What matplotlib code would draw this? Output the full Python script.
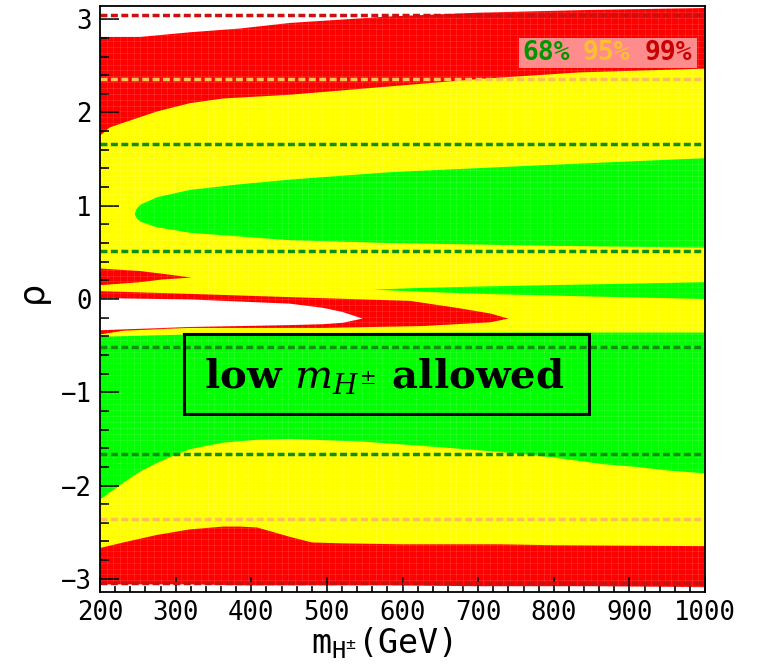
import numpy as np
import matplotlib.pyplot as plt
from matplotlib.patches import Rectangle
from matplotlib.ticker import MultipleLocator

# confidence-region boundaries in the (m_H+, rho) plane
# outer 99% band
red_x = [200, 253, 319, 385, 451, 584, 700, 850, 1000]
red_hi = [2.81, 2.81, 2.86, 2.90, 2.96, 3.03, 3.07, 3.10, 3.12]
red_lo = [-3.06, -3.06, -3.06, -3.07, -3.07, -3.07, -3.08, -3.08, -3.09]

# 95% band
yel_hi_x = [200, 213, 231, 275, 319, 363, 451, 584, 703, 835, 1000]
yel_hi = [1.75, 1.84, 1.89, 2.01, 2.10, 2.15, 2.19, 2.28, 2.36, 2.43, 2.47]
yel_lo_x = [200, 231, 275, 319, 363, 385, 408, 451, 480, 520, 600, 729, 800, 1000]
yel_lo = [-2.67, -2.61, -2.53, -2.47, -2.44, -2.44, -2.45, -2.55, -2.61, -2.62,
          -2.63, -2.63, -2.64, -2.65]

# 99% islands inside the 95% band
spike_x = [200, 253, 283, 321]
spike_hi = [0.327, 0.30, 0.27, 0.23]
spike_lo = [0.148, 0.18, 0.21, 0.23]

band_hi_x = [200, 319, 451, 610, 672, 716, 740]
band_hi = [0.084, 0.055, 0.02, -0.02, -0.095, -0.155, -0.21]
band_lo_x = [200, 231, 319, 495, 627, 716, 740]
band_lo = [-0.38, -0.34, -0.31, -0.31, -0.29, -0.25, -0.21]

# excluded hole
hole_x = [200, 319, 451, 495, 521, 547]
hole_hi = [0.01, -0.005, -0.05, -0.095, -0.14, -0.21]
hole_lo = [-0.335, -0.30, -0.28, -0.27, -0.255, -0.21]

# 68% regions
lobe_x = [246, 248, 253, 275, 319, 385, 451, 584, 800, 1000]
lobe_hi = [0.91, 0.96, 1.01, 1.09, 1.17, 1.23, 1.28, 1.36, 1.44, 1.51]
lobe_lo = [0.91, 0.87, 0.83, 0.77, 0.71, 0.67, 0.63, 0.60, 0.57, 0.55]

sliver_x = [561, 627, 703, 850, 1000]
sliver_hi = [0.10, 0.12, 0.134, 0.157, 0.18]
sliver_lo = [0.10, 0.077, 0.055, 0.027, 0.0]

low_hi_x = [200, 319, 500, 700, 1000]
low_hi = [-0.405, -0.38, -0.365, -0.36, -0.36]
low_lo_x = [200, 231, 253, 275, 297, 319, 363, 408, 451, 550, 600, 650, 729,
            774, 819, 864, 909, 953, 1000]
low_lo = [-2.15, -1.97, -1.85, -1.76, -1.68, -1.61, -1.54, -1.51, -1.50, -1.53,
          -1.56, -1.59, -1.64, -1.675, -1.72, -1.77, -1.80, -1.84, -1.87]

# reference lines
ref_levels = [3.05, 2.36, 1.66, 0.51, -0.51, -1.66, -2.36, -3.05]
ref_colors = ["#cc1010", "#ffc050", "#108f10", "#108f10",
              "#108f10", "#108f10", "#ffc050", "#cc1010"]

x_ticks = list(range(200, 1001, 100))
y_ticks = [-3, -2, -1, 0, 1, 2, 3]

RED = "#ff0000"
YELLOW = "#ffff00"
GREEN = "#00ff00"
MONO = "DejaVu Sans Mono"


def region(ax, x_hi, hi, x_lo, lo, color):
    xs = np.r_[x_hi, x_lo[::-1]]
    ys = np.r_[hi, lo[::-1]]
    ax.fill(xs, ys, color=color, lw=0, zorder=1)


fig = plt.figure(figsize=(7.58, 6.66), dpi=100)
ax = fig.add_axes([100 / 758, 1 - 592 / 666, 605 / 758, 586 / 666])

region(ax, red_x, red_hi, red_x, red_lo, RED)
region(ax, yel_hi_x, yel_hi, yel_lo_x, yel_lo, YELLOW)
region(ax, spike_x, spike_hi, spike_x, spike_lo, RED)
region(ax, band_hi_x, band_hi, band_lo_x, band_lo, RED)
region(ax, hole_x, hole_hi, hole_x, hole_lo, "white")
region(ax, lobe_x, lobe_hi, lobe_x, lobe_lo, GREEN)
region(ax, sliver_x, sliver_hi, sliver_x, sliver_lo, GREEN)
region(ax, low_hi_x, low_hi, low_lo_x, low_lo, GREEN)

# faint binning texture of the scan
for gx in np.linspace(200, 1000, 91):
    ax.axvline(gx, color="white", lw=0.5, alpha=0.15, zorder=2)
for gy in np.linspace(-np.pi, np.pi, 101):
    ax.axhline(gy, color="white", lw=0.5, alpha=0.15, zorder=2)

for lev, col in zip(ref_levels, ref_colors):
    ax.axhline(lev, color=col, lw=2.5, dashes=(2.0, 1.0), zorder=3)

ax.set_xlim(200, 1000)
ax.set_ylim(-np.pi, np.pi)

ax.set_xticks(x_ticks)
ax.set_xticklabels([str(t) for t in x_ticks], family=MONO, fontsize=18.5)
ax.set_yticks(y_ticks)
ax.set_yticklabels([u"\u2212" + str(-t) if t < 0 else str(t) for t in y_ticks],
                   family=MONO, fontsize=18.5)
ax.xaxis.set_minor_locator(MultipleLocator(20))
ax.yaxis.set_minor_locator(MultipleLocator(0.2))
ax.tick_params(which="both", direction="in", top=False, right=False,
               width=1.2, color="black")
ax.tick_params(axis="x", which="major", length=11, pad=6)
ax.tick_params(axis="x", which="minor", length=4.5)
ax.tick_params(axis="y", which="major", length=14, pad=6)
ax.tick_params(axis="y", which="minor", length=6.5)
for sp in ax.spines.values():
    sp.set_linewidth(1.3)
    sp.set_zorder(5)

ax.set_xlabel(r"m$_{\mathregular{H^{\pm}}}$(GeV)", family=MONO, fontsize=24)
ax.xaxis.set_label_coords((382 - 100) / 605, -0.056)
ax.set_ylabel(u"\u03c1", family="DejaVu Sans", fontsize=25, rotation=90)
ax.yaxis.set_label_coords(-0.085, 0.512)

# confidence level key
ax.add_patch(Rectangle(((519 - 100) / 605, (592 - 68) / 586), 178 / 605, 30 / 586,
                       transform=ax.transAxes, facecolor="#ff8c8c",
                       edgecolor="none", zorder=4))
for txt, cx, col in [("68%", 546, "#009600"), ("95%", 606.5, "#ffc030"),
                     ("99%", 668, "#c80000")]:
    ax.text((cx - 100) / 605, (592 - 53) / 586, txt, transform=ax.transAxes,
            ha="center", va="center", color=col, fontsize=19,
            fontweight="bold", family=MONO, zorder=5)

# label for the low-mass green region
ax.add_patch(Rectangle((311, -1.23), 536, 0.86, facecolor="none",
                       edgecolor="black", lw=2.2, zorder=4))
plt.rcParams["mathtext.fontset"] = "dejavuserif"
ax.text(576, -0.95, r"low $m_{H^{\pm}}$ allowed", ha="center", va="baseline",
        family="DejaVu Serif", fontweight="bold", fontsize=29, zorder=5)

fig.savefig("out.png", dpi=100)
